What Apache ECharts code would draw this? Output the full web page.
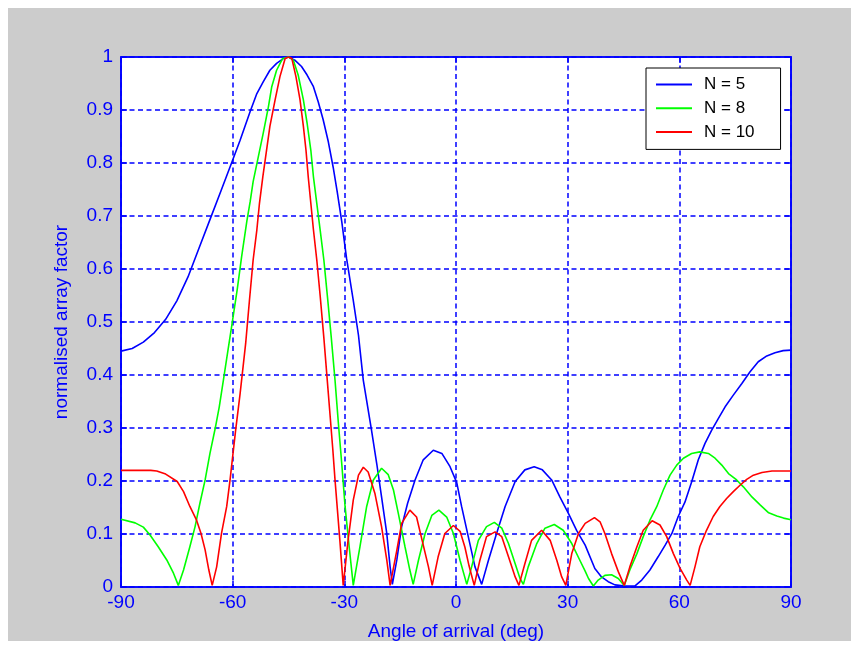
<!DOCTYPE html>
<html>
<head>
<meta charset="utf-8">
<script src="https://cdn.jsdelivr.net/npm/echarts@6/dist/echarts.min.js"></script>
<style>
  html, body { margin: 0; padding: 0; background: #ffffff; }
  #frame { position: absolute; left: 8px; top: 8px; width: 843px; height: 633px; background: #cccccc; }
  #chart { position: absolute; left: 0; top: 0; width: 859px; height: 649px; }
</style>
</head>
<body>
<div id="frame"></div>
<div id="chart"></div>
<script>
// Tick values
const xTicks = [-90, -60, -30, 0, 30, 60, 90];
const yTicks = [0, 0.1, 0.2, 0.3, 0.4, 0.5, 0.6, 0.7, 0.8, 0.9, 1];
const seriesNames = ['N = 5', 'N = 8', 'N = 10'];

// [angle (deg), normalised array factor]
const pointsN5 = [
  [-90,0.445],[-87,0.45],[-84,0.462],[-81,0.48],[-78,0.505],[-75,0.54],[-72,0.585],[-69,0.64],
  [-66,0.695],[-63,0.75],[-60.3,0.80],[-58,0.843],[-55.3,0.897],[-53.5,0.931],[-51.8,0.953],
  [-50,0.975],[-48.2,0.988],[-46.4,0.997],[-45,1.0],[-43.3,0.994],[-41.5,0.982],[-40,0.966],
  [-38.3,0.944],[-37,0.915],[-35.7,0.882],[-34.3,0.84],[-33,0.792],[-31.9,0.745],[-30.7,0.69],
  [-29.4,0.62],[-27.6,0.541],[-26.2,0.475],[-24.9,0.39],[-22.7,0.296],[-21.3,0.233],[-20,0.17],
  [-18.6,0.101],[-17.7,0.038],[-17.1,0.005],[-15.9,0.051],[-14.6,0.114],[-13,0.158],[-11,0.202],
  [-8.8,0.24],[-6.1,0.258],[-3.8,0.252],[-1.6,0.227],[0.2,0.197],[1.5,0.152],[3.3,0.095],
  [5.1,0.038],[6.9,0.005],[8.7,0.05],[10.9,0.101],[13.2,0.152],[15.9,0.199],[18.5,0.221],
  [21,0.227],[23.2,0.221],[25.7,0.202],[27.9,0.17],[30.2,0.139],[32.4,0.107],[34.7,0.079],
  [37.3,0.035],[39.1,0.019],[40.9,0.01],[42.7,0.004],[45.4,0.002],[48.1,0.002],[49.9,0.013],
  [52.1,0.032],[54.3,0.057],[56.2,0.079],[58,0.101],[59.7,0.133],[61.5,0.16],[63.3,0.198],
  [65.1,0.24],[66.9,0.271],[68.7,0.296],[70.5,0.318],[72.3,0.34],[74.5,0.362],[76.8,0.384],
  [79,0.406],[81.2,0.425],[83.5,0.436],[85.7,0.442],[87.9,0.446],[90,0.447]
];

const pointsN8 = [
  [-90,0.128],[-86.2,0.121],[-84,0.113],[-82.2,0.098],[-80,0.076],[-77.7,0.051],[-75.9,0.026],
  [-74.6,0.003],[-73.2,0.032],[-71.5,0.076],[-70.1,0.114],[-68.8,0.158],[-67.4,0.202],
  [-66.1,0.252],[-64.7,0.299],[-63.6,0.34],[-62.5,0.39],[-61.3,0.445],[-60.2,0.495],[-58.8,0.56],
  [-57.6,0.623],[-56.2,0.69],[-55.3,0.727],[-54.5,0.765],[-53.1,0.812],[-51.8,0.856],
  [-50.4,0.906],[-49.5,0.944],[-48.2,0.975],[-46.6,0.997],[-45,1],[-43.7,0.994],[-42.4,0.966],
  [-41,0.919],[-40,0.875],[-39,0.824],[-38.3,0.774],[-37.4,0.724],[-36.5,0.674],[-35.5,0.617],
  [-34.5,0.545],[-33.5,0.47],[-32.5,0.39],[-31.6,0.309],[-30.7,0.233],[-29.8,0.152],
  [-28.7,0.076],[-27.6,0.003],[-25.8,0.076],[-24,0.152],[-22.2,0.202],[-20,0.224],[-18.2,0.212],
  [-16.8,0.183],[-15.5,0.139],[-13.7,0.076],[-12.4,0.032],[-11.5,0.005],[-10.1,0.05],
  [-8.3,0.101],[-6.5,0.135],[-4.6,0.145],[-2.5,0.132],[-0.7,0.101],[1.1,0.05],[2.9,0.005],
  [4.2,0.038],[6,0.088],[8.2,0.114],[10.3,0.122],[12.3,0.111],[14.1,0.082],[15.9,0.044],
  [17.2,0.016],[18.1,0.005],[19.4,0.038],[21.7,0.082],[23.9,0.111],[26.4,0.118],[28.8,0.107],
  [31.1,0.082],[33.3,0.05],[34.7,0.03],[35.6,0.016],[36.9,0.002],[38.2,0.013],[40,0.022],
  [41.8,0.023],[43.6,0.016],[45.2,0.003],[46.7,0.032],[48.6,0.063],[50.3,0.095],[52.1,0.126],
  [53.9,0.151],[55.7,0.183],[57.5,0.211],[59.3,0.23],[61.1,0.243],[63.3,0.252],[65.5,0.255],
  [67.8,0.252],[69.6,0.243],[71.4,0.23],[73.2,0.214],[75.4,0.202],[77.2,0.189],[79.5,0.17],
  [81.7,0.155],[84,0.14],[86.2,0.134],[88,0.13],[90,0.127]
];

const pointsN10 = [
  [-90,0.22],[-86,0.22],[-82,0.22],[-80.4,0.219],[-78,0.213],[-74.9,0.199],[-73.2,0.18],
  [-71.5,0.152],[-69.7,0.126],[-68.5,0.101],[-67.4,0.07],[-66.4,0.032],[-65.5,0.003],
  [-64.3,0.038],[-63,0.101],[-61.6,0.152],[-60.7,0.202],[-60.1,0.24],[-59.2,0.296],[-58,0.365],
  [-56.5,0.46],[-55.5,0.54],[-54.5,0.617],[-53.5,0.674],[-52.8,0.724],[-51.9,0.774],
  [-50.9,0.824],[-50,0.869],[-48.6,0.919],[-47.3,0.963],[-45.9,0.997],[-45,1],[-44.1,0.997],
  [-43,0.963],[-41.9,0.919],[-41,0.869],[-40.3,0.824],[-39.7,0.774],[-39,0.724],[-38.3,0.674],
  [-37.4,0.617],[-36.5,0.55],[-35.5,0.47],[-34.3,0.365],[-33.1,0.26],[-32.5,0.202],
  [-31.2,0.088],[-30.3,0.003],[-29,0.088],[-27.6,0.164],[-26.2,0.211],[-24.9,0.226],
  [-23.6,0.217],[-21.8,0.177],[-20,0.114],[-18.6,0.051],[-17.7,0.003],[-15.9,0.069],
  [-14.6,0.12],[-12.4,0.145],[-10.6,0.132],[-9.1,0.088],[-7.4,0.038],[-6.4,0.003],[-4.8,0.057],
  [-3,0.101],[-0.7,0.116],[1.1,0.105],[2.4,0.075],[3.5,0.04],[4.9,0.003],[6.4,0.05],[8.2,0.095],
  [10.5,0.104],[12.3,0.095],[14.1,0.057],[15.9,0.019],[16.9,0.003],[18.5,0.044],[20.3,0.088],
  [23,0.107],[25.3,0.088],[27.1,0.05],[28.4,0.019],[29.5,0.003],[31.1,0.063],[32.9,0.101],
  [34.7,0.12],[37.2,0.131],[38.7,0.123],[40,0.101],[41.8,0.063],[43.6,0.029],[45.2,0.003],
  [46.7,0.038],[48.6,0.076],[50.3,0.107],[52.7,0.125],[54.8,0.117],[56.6,0.095],[58.4,0.063],
  [60.2,0.035],[62,0.013],[62.9,0.003],[64.2,0.038],[65.5,0.076],[67.3,0.107],[69.1,0.133],
  [70.9,0.152],[72.7,0.167],[74.5,0.18],[76.3,0.192],[78.1,0.203],[79.9,0.211],[82.2,0.216],
  [84.9,0.219],[87.6,0.219],[90,0.219]
];

const BLUE = '#0000ff';
const FONT = '"Liberation Sans", Arial, Helvetica, sans-serif';

const chart = echarts.init(document.getElementById('chart'), null, { renderer: 'canvas' });

const xMin = xTicks[0], xMax = xTicks[xTicks.length - 1], xStep = xTicks[1] - xTicks[0];
const yMin = yTicks[0], yMax = yTicks[yTicks.length - 1], yStep = 0.1;

function axisCommon() {
  return {
    axisLine: { show: true, onZero: false, lineStyle: { color: BLUE, width: 1.6 } },
    axisTick: { show: true, inside: true, length: 6, lineStyle: { color: BLUE, width: 1.5 } },
  };
}

const gridDash = { color: BLUE, width: 1.5, type: [5, 3.5] };

const option = {
  animation: false,
  textStyle: { fontFamily: FONT },
  grid: {
    left: 121, top: 57, width: 670, height: 530,
    show: true, backgroundColor: '#ffffff', borderColor: BLUE, borderWidth: 1.6
  },
  legend: {
    data: seriesNames,
    orient: 'vertical',
    left: 646, top: 68,
    backgroundColor: '#ffffff',
    borderColor: '#000000', borderWidth: 1,
    padding: [8, 26, 9, 10],
    itemGap: 6.7,
    itemWidth: 36, itemHeight: 2,
    icon: 'rect',
    textStyle: { fontSize: 17, color: '#000000', fontFamily: FONT, padding: [0, 0, 0, 7] }
  },
  xAxis: [
    Object.assign({
      type: 'value', min: xMin, max: xMax, interval: xStep, position: 'bottom',
      axisLabel: { color: BLUE, fontSize: 19, margin: 6, fontFamily: FONT },
      splitLine: { show: true, lineStyle: gridDash },
      name: 'Angle of arrival (deg)', nameLocation: 'middle', nameGap: 35,
      nameTextStyle: { color: BLUE, fontSize: 19, fontFamily: FONT }
    }, axisCommon()),
    Object.assign({
      type: 'value', min: xMin, max: xMax, interval: xStep, position: 'top',
      axisLabel: { show: false }, splitLine: { show: false }
    }, axisCommon())
  ],
  yAxis: [
    Object.assign({
      type: 'value', min: yMin, max: yMax, interval: yStep, position: 'left',
      axisLabel: { color: BLUE, fontSize: 19, margin: 8, fontFamily: FONT },
      splitLine: { show: true, lineStyle: gridDash },
      name: 'normalised array factor', nameLocation: 'middle', nameGap: 50,
      nameTextStyle: { color: BLUE, fontSize: 19, fontFamily: FONT }
    }, axisCommon()),
    Object.assign({
      type: 'value', min: yMin, max: yMax, interval: yStep, position: 'right',
      axisLabel: { show: false }, splitLine: { show: false }
    }, axisCommon())
  ],
  series: [
    { name: seriesNames[0], type: 'line', data: pointsN5, showSymbol: false, symbol: 'none',
      color: '#0000ff', lineStyle: { color: '#0000ff', width: 1.6 }, z: 3 },
    { name: seriesNames[1], type: 'line', data: pointsN8, showSymbol: false, symbol: 'none',
      color: '#00ff00', lineStyle: { color: '#00ff00', width: 1.6 }, z: 4 },
    { name: seriesNames[2], type: 'line', data: pointsN10, showSymbol: false, symbol: 'none',
      color: '#ff0000', lineStyle: { color: '#ff0000', width: 1.6 }, z: 5 }
  ]
};

chart.setOption(option);
</script>
</body>
</html>
